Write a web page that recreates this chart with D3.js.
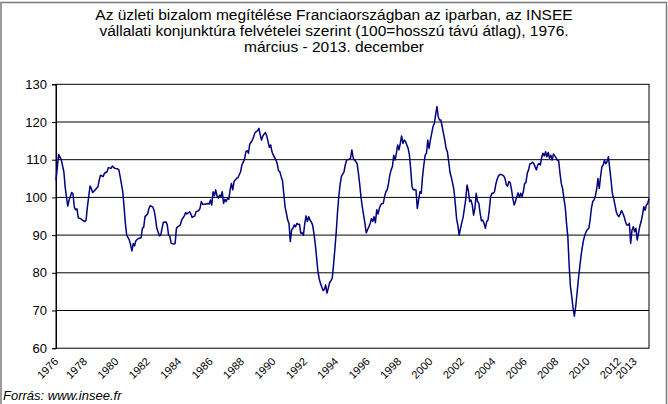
<!DOCTYPE html>
<html>
<head>
<meta charset="utf-8">
<script src="https://cdn.jsdelivr.net/npm/d3@7"></script>
<style>
  html, body { margin: 0; padding: 0; background: #fff; }
  svg { display: block; }
  text { font-family: "Liberation Sans", Arial, sans-serif; fill: #000; }
</style>
</head>
<body>
<svg id="chart" width="668" height="404"></svg>
<script>
// ---- Data ----
// Month offsets counted from 1976 March (0) to 2013 December (453)
const months = [
  0,2,4,6,7,8,9,10,12,13,14,15,16,17,19,21,22,23,24,26,27,28,30,32,33,34,36,37,39,40,
  42,43,45,47,48,49,51,52,53,54,56,57,58,59,60,61,63,65,66,67,68,70,71,72,74,75,76,77,79,80,
  81,82,84,85,86,87,88,90,91,92,93,95,96,98,99,100,102,103,104,106,107,109,110,111,112,114,116,117,118,119,
  120,121,122,123,124,125,126,127,128,129,130,131,132,133,134,135,136,138,139,141,142,144,145,146,147,148,150,151,152,154,
  155,156,157,158,159,160,161,162,163,164,165,166,168,169,170,171,172,173,174,175,176,177,178,179,180,181,182,183,184,185,
  186,187,188,189,190,191,192,193,194,195,196,197,198,199,200,201,202,203,204,205,206,207,208,209,210,211,212,213,214,215,
  216,217,218,219,220,221,222,224,225,226,227,228,229,230,231,232,233,234,235,236,237,238,239,240,241,242,243,244,245,246,
  247,248,249,250,251,252,253,254,255,256,257,258,259,260,261,262,263,264,265,266,267,268,269,270,271,272,273,274,275,276,
  277,278,279,280,281,282,283,284,285,286,287,288,289,290,291,292,293,294,295,296,297,298,299,300,301,302,303,304,305,306,
  307,308,309,310,311,312,313,314,315,316,317,318,319,320,321,322,323,324,325,326,327,328,329,330,331,332,333,334,335,336,
  337,338,339,340,341,342,343,344,345,346,347,348,349,350,351,352,353,354,355,356,357,358,359,360,361,362,363,364,365,366,
  367,368,369,370,371,372,373,374,375,376,377,378,379,380,381,382,383,384,385,386,387,388,389,390,391,392,393,394,395,396,
  397,398,399,400,401,402,403,404,405,406,407,408,409,410,411,412,413,414,415,416,417,418,419,420,421,422,423,424,425,426,
  427,428,429,430,431,432,433,434,435,436,437,438,439,440,441,442,443,444,445,446,447,448,449,450,451,452,453
];
const values = [
  104.5,111.4,110.0,106.8,102.8,100.0,97.7,99.3,101.3,100.9,97.4,96.7,97.0,94.6,94.3,93.8,93.6,94.0,97.5,103.0,102.4,101.3,102.0,102.8,104.6,105.9,105.5,106.4,106.8,107.9,
  107.7,108.3,107.7,107.6,107.3,105.5,101.5,97.5,93.1,90.0,88.7,87.4,85.8,87.8,87.1,88.5,89.1,89.3,91.8,92.1,94.9,95.6,97.1,97.8,97.4,96.5,94.5,91.8,89.8,90.0,
  91.8,93.4,93.5,92.7,90.0,89.6,87.8,87.6,87.8,91.8,92.2,92.7,94.0,95.1,96.0,95.6,96.2,95.6,94.7,95.1,96.2,96.5,97.1,98.9,98.2,98.2,98.4,98.2,99.3,98.0,
  101.5,100.4,102.0,100.4,99.8,100.6,100.2,101.5,98.4,99.5,98.9,99.8,99.5,102.0,103.7,102.0,104.2,105.1,105.2,106.8,108.6,110.1,112.1,112.4,111.7,114.1,115.2,116.1,117.2,117.7,
  118.3,116.6,115.2,116.3,116.8,117.2,116.3,114.8,113.3,113.9,112.1,111.2,109.9,108.9,107.1,106.8,105.5,104.5,101.0,97.5,95.8,94.0,93.1,88.3,91.4,91.8,92.7,92.2,93.1,92.8,
  92.9,90.5,90.6,90.0,93.0,95.1,93.6,94.9,94.0,93.5,92.7,90.5,87.8,84.3,80.7,78.5,77.2,76.3,75.3,75.6,76.8,74.6,75.9,77.4,77.9,78.5,82.1,86.1,90.5,95.8,
  100.2,103.3,105.5,106.2,106.8,108.6,109.9,110.1,110.4,112.6,110.5,109.9,109.5,109.0,106.5,103.5,100.0,97.5,95.3,93.1,90.6,91.4,92.2,93.1,94.4,93.6,94.9,93.3,96.7,95.6,
  97.1,98.0,98.4,98.4,100.2,101.5,102.0,103.7,105.9,107.3,108.2,111.2,109.9,111.7,113.9,112.6,114.3,116.3,114.3,115.2,114.8,113.9,113.0,111.2,107.3,102.8,102.0,102.1,102.0,97.1,
  99.3,101.5,101.1,105.5,108.6,111.2,111.7,115.2,113.0,115.2,117.0,118.8,119.6,121.9,124.1,121.4,120.5,120.5,118.8,117.0,115.2,113.0,112.1,109.5,106.6,105.3,103.7,102.0,98.4,94.4,
  92.5,90.0,91.8,93.3,94.7,97.1,99.5,103.3,101.8,98.9,99.3,98.0,95.3,97.1,101.1,98.9,98.4,95.8,93.8,94.0,93.1,91.8,93.6,94.0,96.7,100.2,101.1,101.1,101.5,103.5,
  104.8,105.7,106.1,106.1,105.9,105.7,105.0,103.3,103.0,104.2,103.9,102.0,99.7,98.0,98.9,100.2,101.2,100.0,101.1,100.2,101.5,103.7,103.9,106.4,107.3,108.9,109.0,109.3,109.0,108.1,
  107.3,108.6,109.0,108.6,110.6,111.7,111.0,112.1,110.8,111.9,110.4,111.2,109.9,111.5,111.0,110.5,109.9,109.7,106.4,103.7,102.4,99.7,97.5,93.1,89.6,82.0,76.3,73.7,70.6,68.5,
  71.0,74.5,78.1,81.2,84.3,86.7,88.7,90.0,90.9,91.5,91.8,94.0,97.1,98.9,99.3,100.4,102.1,105.0,102.4,105.5,108.1,108.6,109.9,108.9,109.5,110.8,107.7,104.6,101.1,99.7,
  98.0,96.2,95.3,94.9,95.6,96.5,95.8,94.9,93.6,92.7,92.7,93.1,87.8,91.3,92.2,90.9,91.8,88.7,90.5,92.4,93.6,95.3,97.5,96.6,98.0,98.4,99.7
];
// x-axis labels and the month offset where each one sits
const xLabels = ["1976","1978","1980","1982","1984","1986","1988","1990","1992","1994","1996","1998",
                 "2000","2002","2004","2006","2008","2010","2012","2013"];
const xLabelMonths = [0,22,46,70,94,118,142,166,190,214,238,262,286,310,334,358,382,406,430,442];
const yTicks = [60,70,80,90,100,110,120,130];
const titleLines = [
  "Az üzleti bizalom megítélése Franciaországban az iparban, az INSEE",
  "vállalati konjunktúra felvételei szerint (100=hosszú távú átlag), 1976.",
  "március - 2013. december"
];
const sourceText = "Forrás: www.insee.fr";

// ---- Drawing ----
const svg = d3.select("#chart");
const W = 668, H = 404;
const plot = { left: 56, right: 649, top: 84.3, bottom: 348.2 };

const x = d3.scaleLinear().domain([0, 453]).range([plot.left, plot.right]);
const y = d3.scaleLinear().domain([60, 130]).range([plot.bottom, plot.top]);

// outer frame
svg.append("rect")
  .attr("x", 1).attr("y", 2.5).attr("width", W - 2.5).attr("height", H + 10)
  .attr("fill", "none").attr("stroke", "#7a7a7a").attr("stroke-width", 1.5);

// title
const title = svg.append("text").attr("text-anchor", "middle").style("font-size", "15.5px");
titleLines.forEach((t, i) => {
  title.append("tspan").attr("x", 334).attr("y", 20 + i * 16).text(t);
});

// gridlines
svg.append("g").selectAll("line")
  .data(yTicks.filter(v => v > 60 && v < 130))
  .join("line")
  .attr("x1", plot.left).attr("x2", plot.right)
  .attr("y1", d => y(d)).attr("y2", d => y(d))
  .attr("stroke", "#000").attr("stroke-width", 1);

// plot border
svg.append("rect")
  .attr("x", plot.left).attr("y", plot.top)
  .attr("width", plot.right - plot.left).attr("height", plot.bottom - plot.top)
  .attr("fill", "none").attr("stroke", "#000").attr("stroke-width", 1);

// y axis
const yAxis = d3.axisLeft(y).tickValues(yTicks).tickSize(4).tickPadding(5).tickFormat(d3.format("d"));
const gy = svg.append("g").attr("transform", `translate(${plot.left},0)`).call(yAxis);
gy.select(".domain").attr("stroke", "#000");
gy.selectAll(".tick line").attr("stroke", "#000");
gy.selectAll("text").style("font-size", "13px").style("font-family", "'Liberation Sans', Arial, sans-serif").attr("fill", "#000");

// x labels (rotated)
svg.append("g").selectAll("text")
  .data(xLabels)
  .join("text")
  .attr("text-anchor", "end")
  .style("font-size", "11px")
  .attr("transform", (d, i) => `translate(${x(xLabelMonths[i]) + 3},${plot.bottom + 14}) rotate(-45)`)
  .text(d => d);

// line
const line = d3.line()
  .x((d, i) => x(months[i]))
  .y(d => y(d));
svg.append("path")
  .datum(values)
  .attr("d", line)
  .attr("fill", "none")
  .attr("stroke", "#000080")
  .attr("stroke-width", 1.5)
  .attr("stroke-linejoin", "round");

// source
svg.append("text")
  .attr("x", 3).attr("y", 400)
  .style("font-size", "13px").style("font-style", "italic")
  .text(sourceText);
</script>
</body>
</html>
